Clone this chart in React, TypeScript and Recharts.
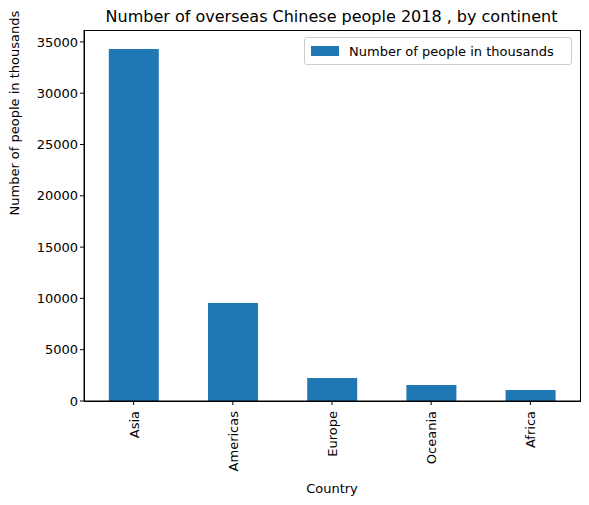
import { BarChart, Bar, XAxis, YAxis } from 'recharts';

const continents = ['Asia', 'Americas', 'Europe', 'Oceania', 'Africa'];
const people = [34300, 9550, 2240, 1560, 1070];
const yTicks = [0, 5000, 10000, 15000, 20000, 25000, 30000, 35000];

const data = continents.map((name, i) => ({ name, people: people[i] }));

const font = 'DejaVu Sans, sans-serif';

function RotatedTick(props: any) {
  const { x, y, payload } = props;
  return (
    <text
      x={0}
      y={0}
      transform={`translate(${x + 5},${y + 4}) rotate(-90)`}
      textAnchor="end"
      fontSize={13}
      fontFamily={font}
      fill="#000"
    >
      {payload.value}
    </text>
  );
}

export default function App() {
  return (
    <div style={{ position: 'absolute', left: 0, top: 0, width: 589, height: 505, background: '#fff', fontFamily: font }}>
      <div style={{ position: 'absolute', left: 0, width: 589, top: 7, textAlign: 'center', fontSize: 16, paddingLeft: 74, boxSizing: 'border-box' }}>
        Number of overseas Chinese people 2018 , by continent
      </div>
      <BarChart
        width={589}
        height={505}
        data={data}
        margin={{ top: 30, right: 9, bottom: 0, left: 0 }}
        barCategoryGap="25%"
      >
        <XAxis
          dataKey="name"
          tick={<RotatedTick />}
          tickLine={{ stroke: '#000' }}
          tickSize={4}
          axisLine={{ stroke: '#000' }}
          interval={0}
          height={104}
          label={{ value: 'Country', position: 'insideBottom', offset: 12, fontSize: 13, fill: '#000', fontFamily: font }}
        />
        <YAxis
          domain={[0, 36160]}
          ticks={yTicks}
          interval={0}
          tickLine={{ stroke: '#000' }}
          tickSize={4}
          axisLine={{ stroke: '#000' }}
          tick={{ fontSize: 13, fill: '#000', fontFamily: font }}
          width={84}
          label={{ value: 'Number of people in thousands', angle: -90, position: 'insideLeft', offset: 14, fontSize: 13, fill: '#000', fontFamily: font }}
        />
        <Bar dataKey="people" fill="#1f77b4" isAnimationActive={false} />
      </BarChart>
      <div style={{ position: 'absolute', left: 84, top: 30, width: 495, height: 370, border: '1px solid #000', pointerEvents: 'none' }} />
      <div style={{ position: 'absolute', left: 304, top: 37, width: 266, height: 26, border: '1px solid #ccc', borderRadius: 3, background: '#fff', display: 'flex', alignItems: 'center', fontSize: 13 }}>
        <span style={{ display: 'inline-block', width: 28, height: 10, background: '#1f77b4', marginLeft: 6, marginRight: 10 }} />
        Number of people in thousands
      </div>
    </div>
  );
}
